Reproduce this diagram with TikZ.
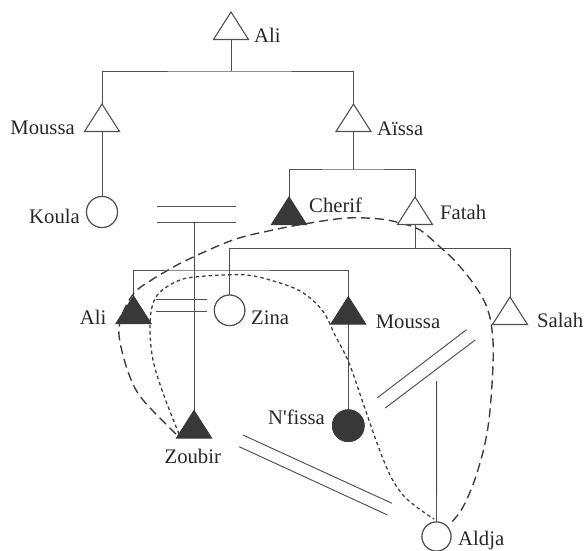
\documentclass[tikz,border=0pt]{standalone}
\usepackage{fontspec}
\setmainfont{Liberation Serif}
\definecolor{ln}{HTML}{505050}
\definecolor{fl}{HTML}{383838}
\definecolor{dk}{HTML}{404040}
\definecolor{txt}{HTML}{282828}
\newcommand\kintri[4]{%
  \coordinate (#1) at (#2,#3);
  \path (#1) ++(0,27.5) coordinate (#1b);
  \filldraw[#4] (#1) -- ++(17.5,27.5) -- ++(-35,0) -- cycle;
}
\begin{document}
\begin{tikzpicture}[x=1pt,y=-1pt,
  kin/.style={draw=ln, line width=0.95pt},
  wtri/.style={draw=ln, fill=white, line width=1.1pt, line join=miter},
  btri/.style={draw=fl, fill=fl, line width=1pt, line join=miter},
  circ/.style={circle, draw=ln, line width=1.1pt, minimum size=31pt, inner sep=0pt, fill=white},
  fcirc/.style={circ, draw=fl, fill=fl},
  lbl/.style={inner sep=0pt, font=\fontsize{20.7}{24}\selectfont, text=txt},
  longdash/.style={draw=dk, line width=1.4pt, dash pattern=on 9pt off 5pt},
  shortdash/.style={draw=dk, line width=1.3pt, dash pattern=on 3.5pt off 3pt}]
\useasboundingbox[fill=white] (0,0) rectangle (586,551);

% circles (named nodes)
\node[circ] (koula) at (102,212) {};
\node[circ, minimum size=30.5pt] (zina) at (229.6,310.3) {};
\node[fcirc, minimum size=31.5pt] (nfissa) at (348.3,425.7) {};
\node[circ, minimum size=29pt] (aldja) at (436.5,536.5) {};

% coordinates for triangle apexes
\coordinate (aliT) at (231,12);
\coordinate (moussaT) at (102,104);
\coordinate (aissa) at (353.5,104);
\coordinate (cherif) at (289,197);
\coordinate (fatah) at (415,197);
\coordinate (ali2) at (133.5,296);
\coordinate (moussa2) at (348.3,296.7);
\coordinate (salah) at (510,297);
\coordinate (zoubir) at (194,410.5);
\foreach \n in {aliT,moussaT,aissa,cherif,fatah,ali2,moussa2,salah,zoubir}
  {\path (\n) ++(0,27.5) coordinate (\n b);}

% genealogy lines
\coordinate (h1) at (231,71);
\draw[kin] (aliTb) -- (h1);
\draw[kin] (moussaT) |- (h1) -| (aissa);
\draw[kin] (moussaTb) -- (koula.north);
\coordinate (h2) at (353.5,169);
\draw[kin] (aissab) -- (h2);
\draw[kin] (cherif) |- (h2) -| (fatah);
\coordinate (h3) at (415,248.5);
\draw[kin] (fatahb) -- (h3);
\draw[kin] (zina.north) |- (h3) -| (salah);
\coordinate (h4) at (194,270);
\draw[kin] (ali2) |- (h4) -| (moussa2);
\draw[kin] (moussa2b) -- (nfissa.north);

% marriage sign 1 and its descent
\coordinate (m1a) at (157,206); \coordinate (m1b) at (236,206);
\coordinate (m1c) at (157,222); \coordinate (m1d) at (236,222);
\draw[kin] (m1a) -- (m1b);
\draw[kin] (m1c) -- (m1d);
\coordinate (m1) at (194,222);
\draw[kin] (m1) -- (zoubir);

% marriage sign 2 (Ali - Zina)
\coordinate (m2a) at (156,299.3); \coordinate (m2b) at (207,299.3);
\coordinate (m2c) at (156,311.7); \coordinate (m2d) at (207,311.7);
\draw[kin] (m2a) -- (m2b);
\draw[kin] (m2c) -- (m2d);

% marriage sign 3 (N'fissa - Salah)
\coordinate (m3a) at (377.4,397.7); \coordinate (m3b) at (466.5,329.7);
\coordinate (m3c) at (385.2,408); \coordinate (m3d) at (475.2,340);
\draw[kin] (m3a) -- (m3b);
\draw[kin] (m3c) -- (m3d);
\coordinate (m3) at (436.6,381);
\draw[kin] (m3) -- (aldja.north);

% marriage sign 4 (Zoubir - Aldja)
\coordinate (m4a) at (242.9,435); \coordinate (m4b) at (392,503.3);
\coordinate (m4c) at (239.2,446.7); \coordinate (m4d) at (387.5,515);
\draw[kin] (m4a) -- (m4b);
\draw[kin] (m4c) -- (m4d);

% long dashed curve
\draw[longdash] plot[smooth, tension=0.6] coordinates {
 (176,434) (143,400) (130,377) (121,347) (119,328) (124,310) (135,292)
 (150,281) (163,273) (187,260) (233,240) (273,230) (310,223) (347,218)
 (380,219) (400,223) (420,230) (440,247) (455,261) (473,283) (486,305)
 (492,330) (493,365) (488,427) (477,473) (463,507) (450,524)};

% short dashed curve
\draw[shortdash] plot[smooth, tension=0.6] coordinates {
 (179,434) (163,393) (153,360) (150,330) (152,307) (160,292) (180,280)
 (200,276.5) (225,275) (247,275) (270,280) (300,291) (322,310) (335,335)
 (349,363) (362,400) (377,443) (390,475) (403,495) (418,508) (434,519)};

% triangles
\kintri{aliT}{231}{12}{wtri}
\kintri{moussaT}{102}{104}{wtri}
\kintri{aissa}{353.5}{104}{wtri}
\kintri{cherif}{289}{197}{btri}
\kintri{fatah}{415}{197}{wtri}
\kintri{ali2}{133.5}{296}{btri}
\kintri{moussa2}{348.3}{296.7}{btri}
\kintri{salah}{510}{297}{wtri}
\kintri{zoubir}{194}{410.5}{btri}

% redraw circles on top
\node[circ] at (koula) {};
\node[circ, minimum size=30.5pt] at (zina) {};
\node[fcirc, minimum size=31.5pt] at (nfissa) {};
\node[circ, minimum size=29pt] at (aldja) {};

% labels
\node[lbl, anchor=base west] (lAli) at (254,43) {Ali};
\node[lbl, anchor=base east] (lMoussa) at (75,134.5) {Moussa};
\node[lbl, anchor=base west] (lAissa) at (377,135) {Aïssa};
\node[lbl, anchor=base east] (lKoula) at (80,223.5) {Koula};
\node[lbl, anchor=base west] (lCherif) at (309,212.7) {Cherif};
\node[lbl, anchor=base west] (lFatah) at (440,219.5) {Fatah};
\node[lbl, anchor=base east] (lAli2) at (106.5,324) {Ali};
\node[lbl, anchor=base west] (lZina) at (251,324) {Zina};
\node[lbl, anchor=base west] (lMoussa2) at (375.6,328) {Moussa};
\node[lbl, anchor=base west] (lSalah) at (537,327) {Salah};
\node[lbl, anchor=base east] (lNfissa) at (325,424) {N\textquotesingle fissa};
\node[lbl, anchor=base] (lZoubir) at (192.8,463.5) {Zoubir};
\node[lbl, anchor=base west] (lAldja) at (458,545) {Aldja};
\end{tikzpicture}
\end{document}
